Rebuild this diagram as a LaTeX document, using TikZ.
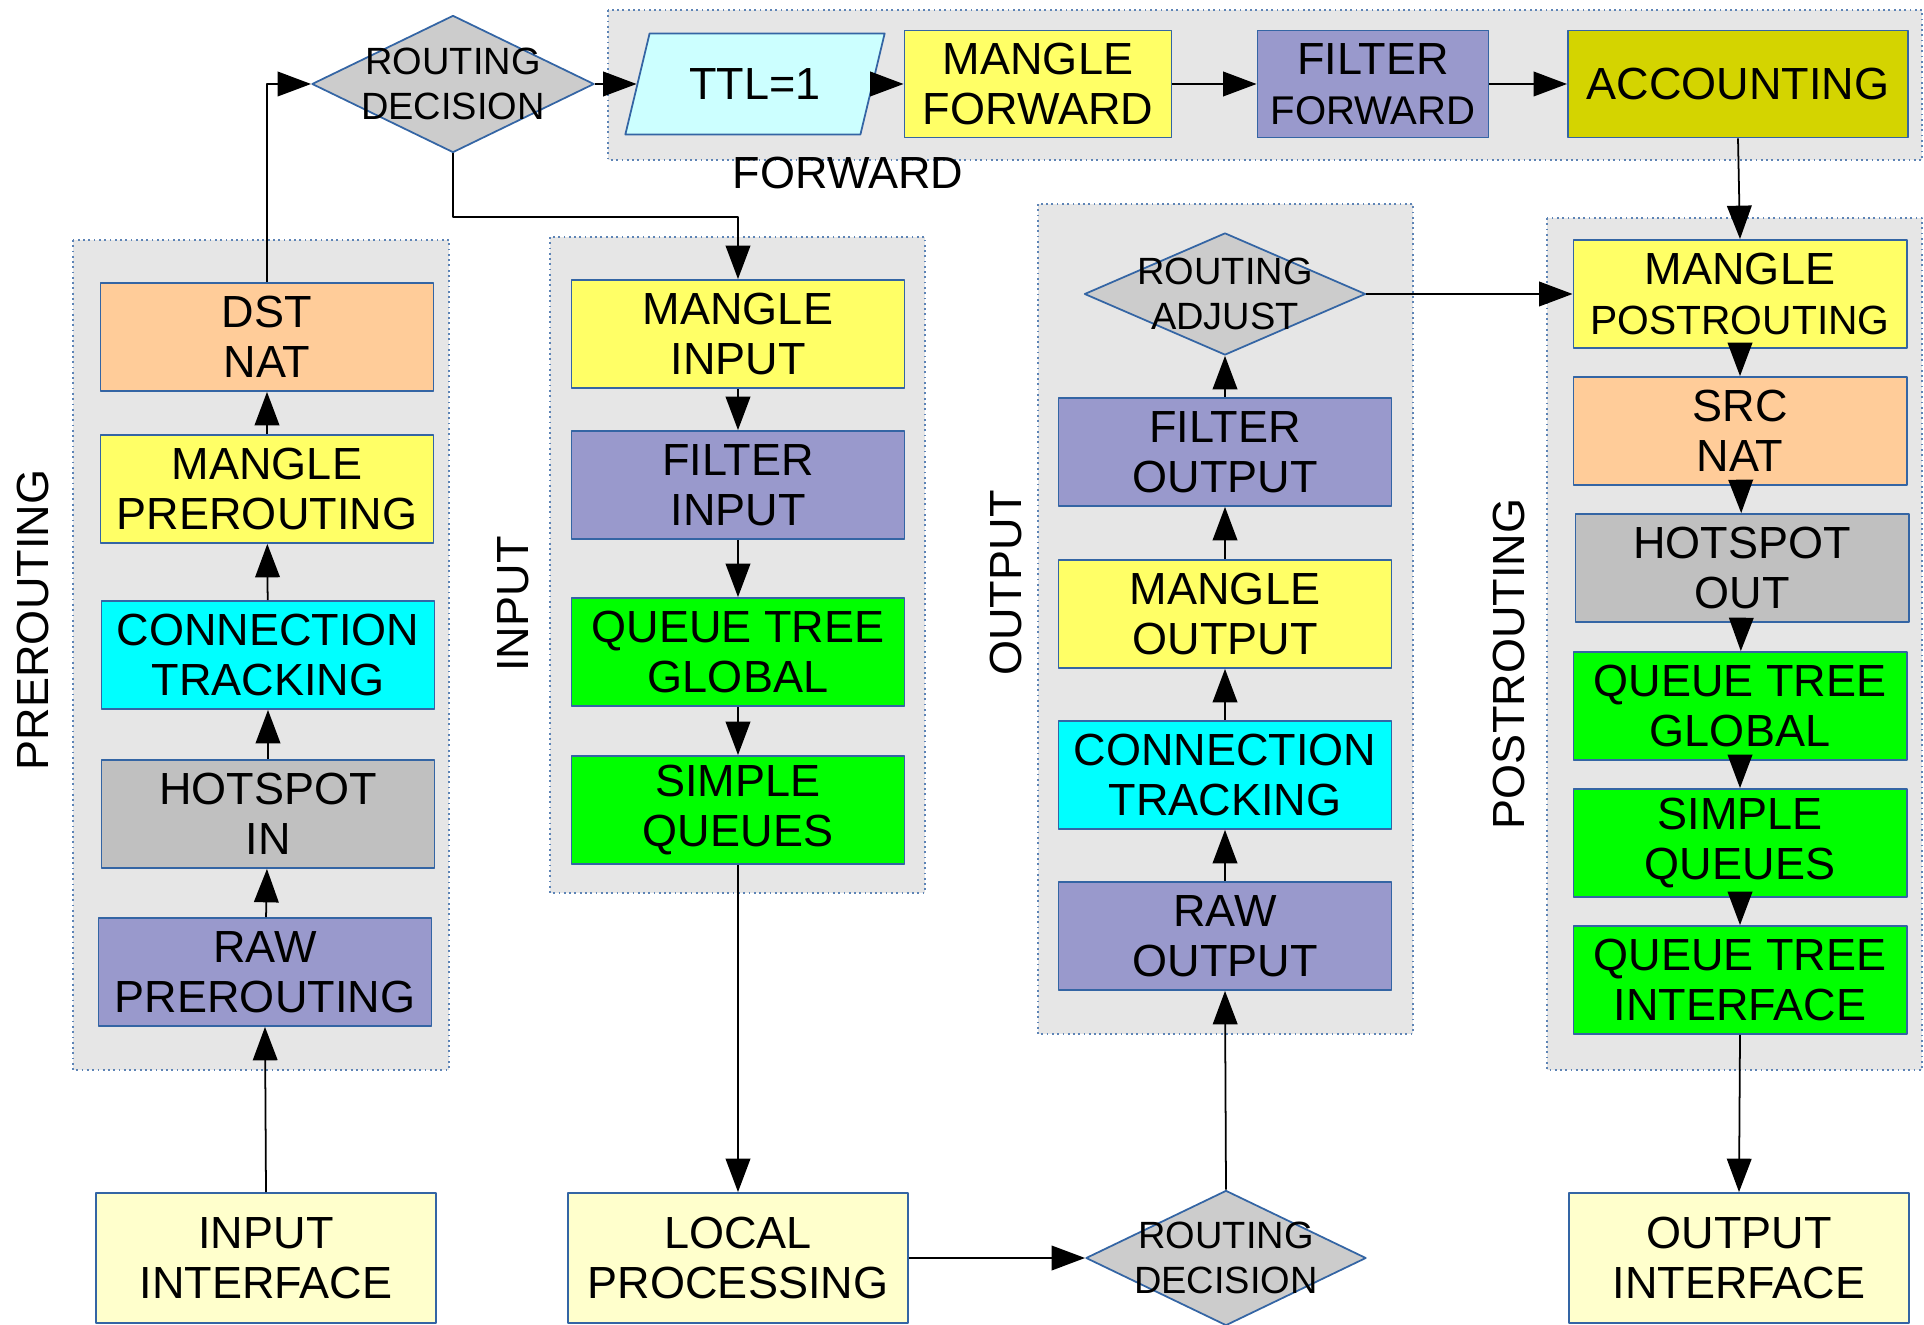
\documentclass[tikz,border=0pt]{standalone}
\usepackage{fontspec}
\setmainfont{Liberation Sans}
\usetikzlibrary{arrows.meta,positioning,shapes.geometric,calc}
\definecolor{pktYellow}{HTML}{FFFF66}
\definecolor{pktBlue}{HTML}{9999CC}
\definecolor{pktCyan}{HTML}{00FFFF}
\definecolor{pktPeach}{HTML}{FFCC99}
\definecolor{pktSilver}{HTML}{C0C0C0}
\definecolor{pktGreen}{HTML}{00FF00}
\definecolor{pktOlive}{HTML}{D4D400}
\definecolor{pktIce}{HTML}{CCFFFF}
\definecolor{pktGrey}{HTML}{CCCCCC}
\definecolor{pktCream}{HTML}{FFFFCC}
\definecolor{pktPanel}{HTML}{E6E6E6}
\definecolor{pktEdge}{HTML}{3465A4}

\begin{document}
\begin{tikzpicture}[x=0.01cm, y=-0.01cm, line join=round,
    chain/.style={draw=pktEdge, line width=0.5pt, minimum width=3.33cm, minimum height=1.08cm,
        align=center, inner sep=0pt, font=\fontsize{12.8}{14.2}\selectfont},
    port/.style={chain, fill=pktCream, minimum width=3.40cm, minimum height=1.30cm},
    decision/.style={diamond, draw=pktEdge, fill=pktGrey, line width=0.5pt,
        minimum width=2.81cm, minimum height=1.22cm, inner sep=0pt},
    dectext/.style={align=center, inner sep=0pt, font=\fontsize{10.8}{12.6}\selectfont},
    panel/.style={fill=pktPanel, draw=pktEdge!80, line width=0.5pt, densely dotted},
    grouplabel/.style={inner sep=0pt, font=\fontsize{12.8}{14}\selectfont},
    flow/.style={-{Triangle[length=9.5pt,width=7pt]}, line width=0.5pt},
]
\useasboundingbox (0,0) rectangle (1924,1325);

% panels
\draw[panel] (608,10) rectangle (1922,160);
\draw[panel] (73,240) rectangle (449,1070);
\draw[panel] (550,237) rectangle (925,893);
\draw[panel] (1038,204) rectangle (1413,1034);
\draw[panel] (1547,218) rectangle (1922,1070);

\node[grouplabel, rotate=90] (lblpre) at (33,620) {PREROUTING};
\node[grouplabel, rotate=90] (lblin) at (513,604) {INPUT};
\node[grouplabel, rotate=90] (lblout) at (1006,583) {OUTPUT};
\node[grouplabel, rotate=90] (lblpost) at (1509,664) {POSTROUTING};
\node[grouplabel] (lblfwd) at (848,173) {FORWARD};

% forward
\node[decision, minimum width=2.82cm, minimum height=1.37cm] (rtdec) at (453,84) {};
\node[dectext] (rtdectxt) at (rtdec) {ROUTING\\DECISION};
\node[trapezium, trapezium left angle=64, trapezium right angle=116, trapezium stretches=true,
    draw=pktEdge, line width=0.5pt, fill=pktIce, minimum width=2.60cm, minimum height=1.01cm,
    inner sep=0pt, font=\fontsize{12.8}{14.2}\selectfont] (ttl) at (755,84) {TTL=1};
\node[chain, fill=pktYellow, minimum width=2.67cm, minimum height=1.07cm] (mangfwd) at (1038,84) {MANGLE\\FORWARD};
\node[chain, fill=pktBlue, minimum width=2.31cm, minimum height=1.07cm] (filtfwd) at (1373,84)
    {FILTER\\\fontsize{11.4}{14.2}\selectfont FORWARD};
\node[chain, fill=pktOlive, minimum width=3.40cm, minimum height=1.07cm] (acct) at (1738,84) {ACCOUNTING};

% prerouting
\node[chain, fill=pktPeach] (dstnat) at (267,337) {DST\\NAT};
\node[chain, fill=pktYellow] (mangpre) at (267,489) {MANGLE\\PREROUTING};
\node[chain, fill=pktCyan] (conntrpre) at (268,655) {CONNECTION\\TRACKING};
\node[chain, fill=pktSilver] (hsin) at (268,814) {HOTSPOT\\IN};
\node[chain, fill=pktBlue] (rawpre) at (265,972) {RAW\\PREROUTING};

% input
\node[chain, fill=pktYellow] (mangin) at (738,334) {MANGLE\\INPUT};
\node[chain, fill=pktBlue] (filtin) at (738,485) {FILTER\\INPUT};
\node[chain, fill=pktGreen] (qtgin) at (738,652) {QUEUE TREE\\GLOBAL};
\node[chain, fill=pktGreen] (sqin) at (738,810) {SIMPLE\\QUEUES};

% output
\node[decision] (rtadj) at (1225,294) {};
\node[dectext] (rtadjtxt) at (rtadj) {ROUTING\\ADJUST};
\node[chain, fill=pktBlue] (filtout) at (1225,452) {FILTER\\OUTPUT};
\node[chain, fill=pktYellow] (mangout) at (1225,614) {MANGLE\\OUTPUT};
\node[chain, fill=pktCyan] (conntrout) at (1225,775) {CONNECTION\\TRACKING};
\node[chain, fill=pktBlue] (rawout) at (1225,936) {RAW\\OUTPUT};

% postrouting
\node[chain, fill=pktYellow] (mangpost) at (1740,294)
    {MANGLE\\\fontsize{11.6}{14.2}\selectfont POSTROUTING};
\node[chain, fill=pktPeach] (srcnat) at (1740,431) {SRC\\NAT};
\node[chain, fill=pktSilver] (hsout) at (1742,568) {HOTSPOT\\OUT};
\node[chain, fill=pktGreen] (qtgpost) at (1740,706) {QUEUE TREE\\GLOBAL};
\node[chain, fill=pktGreen] (sqpost) at (1740,843) {SIMPLE\\QUEUES};
\node[chain, fill=pktGreen] (qtipost) at (1740,980) {QUEUE TREE\\INTERFACE};

% interfaces
\node[port] (inif) at (266,1258) {INPUT\\INTERFACE};
\node[port] (locproc) at (738,1258) {LOCAL\\PROCESSING};
\node[decision, minimum width=2.80cm, minimum height=1.35cm] (rtdec2) at (1226,1258) {};
\node[dectext] (rtdec2txt) at (rtdec2) {ROUTING\\DECISION};
\node[port] (outif) at (1739,1258) {OUTPUT\\INTERFACE};

% arrows
\draw[flow] (inif.north) -- (rawpre.south);
\draw[flow] (rawpre) -- (hsin);
\draw[flow] (hsin) -- (conntrpre);
\draw[flow] (conntrpre) -- (mangpre);
\draw[flow] (mangpre) -- (dstnat);
\draw[flow] (dstnat.north) |- (rtdec.west);
\draw[flow] (rtdec.east) -- (ttl);
\draw[flow] (ttl) -- (mangfwd);
\draw[flow] (mangfwd) -- (filtfwd);
\draw[flow] (filtfwd) -- (acct);
\draw[flow] (acct.south) -- (mangpost.north);
\coordinate (inbend) at (738,217);
\draw[flow] (rtdec.south) |- (inbend) -- (mangin.north);
\draw[flow] (mangin) -- (filtin);
\draw[flow] (filtin) -- (qtgin);
\draw[flow] (qtgin) -- (sqin);
\draw[flow] (sqin.south) -- (locproc.north);
\draw[flow] (locproc.east) -- (rtdec2.west);
\draw[flow] (rtdec2.north) -- (rawout.south);
\draw[flow] (rawout) -- (conntrout);
\draw[flow] (conntrout) -- (mangout);
\draw[flow] (mangout) -- (filtout);
\draw[flow] (filtout.north) -- (rtadj.south);
\draw[flow] (rtadj.east) -- (mangpost.west);
\draw[flow] (mangpost) -- (srcnat);
\draw[flow] (srcnat) -- (hsout);
\draw[flow] (hsout) -- (qtgpost);
\draw[flow] (qtgpost) -- (sqpost);
\draw[flow] (sqpost) -- (qtipost);
\draw[flow] (qtipost.south) -- (outif.north);
\end{tikzpicture}
\end{document}
